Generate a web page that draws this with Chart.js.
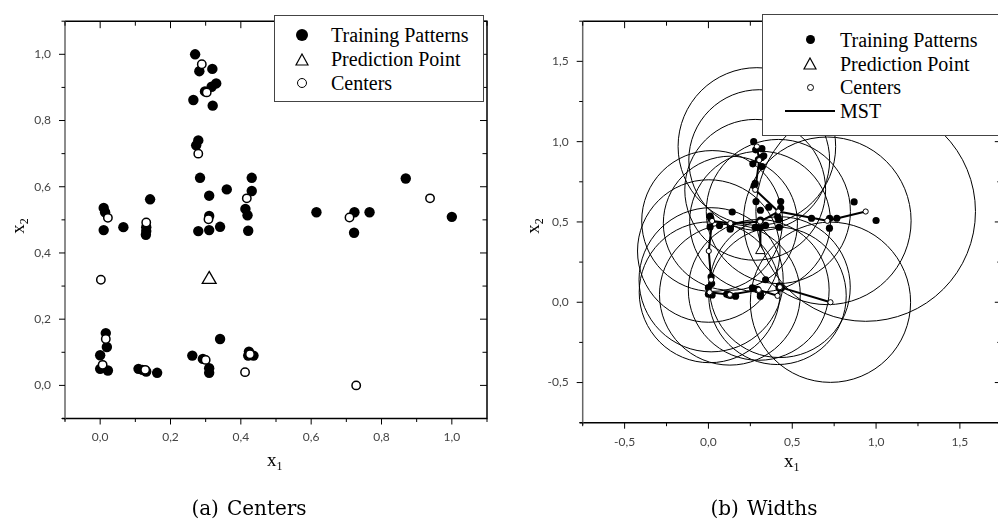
<!DOCTYPE html>
<html>
<head>
<meta charset="utf-8">
<script src="https://cdn.jsdelivr.net/npm/chart.js@4/dist/chart.umd.min.js"></script>
<style>
  html, body { margin: 0; padding: 0; width: 998px; height: 520px; overflow: hidden; background: #fff; }
  #wrap { position: relative; width: 998px; height: 520px; overflow: hidden; }
  canvas { position: absolute; top: 0; }
  #centersChart { left: 0; }
  #widthsChart { left: 500px; }
  .abs { position: absolute; white-space: nowrap; }
  .legendBox { position: absolute; background: #fff; border: 1.5px solid #444; box-sizing: border-box; }
  .legendText { position: absolute; font-family: "Liberation Serif", "Times New Roman", serif; font-size: 20px; line-height: 24px; color: #000; white-space: nowrap; }
  .dot { position: absolute; border-radius: 50%; background: #000; }
  .ring { position: absolute; border-radius: 50%; background: #fff; border: 1.3px solid #000; box-sizing: border-box; }
  .axisTitle { position: absolute; font-family: "Liberation Serif", "Times New Roman", serif; font-size: 19px; line-height: 20px; color: #000; white-space: nowrap; }
  .axisTitle sub { font-size: 12px; vertical-align: -4px; line-height: 0; }
  .caption { position: absolute; width: 220px; text-align: center; font-family: "DejaVu Serif", serif; font-size: 20px; line-height: 24px; color: #000; white-space: nowrap; }
  .caption span { margin-right: 8px; }
</style>
</head>
<body>
<div id="wrap">
  <canvas id="centersChart" width="500" height="470"></canvas>
  <canvas id="widthsChart" width="510" height="470"></canvas>

  <!-- (a) 图例 -->
  <div class="legendBox" style="left:274px;top:15px;width:210px;height:87px;"></div>
  <div class="dot" style="left:296px;top:29px;width:12px;height:12px;"></div>
  <svg class="abs" style="left:295px;top:53px;" width="14" height="13"><polygon points="7,1 13,12 1,12" fill="#fff" stroke="#000" stroke-width="1.2"/></svg>
  <div class="ring" style="left:297px;top:78px;width:10px;height:10px;"></div>
  <div class="legendText" style="left:331px;top:23px;">Training Patterns</div>
  <div class="legendText" style="left:331px;top:47px;">Prediction Point</div>
  <div class="legendText" style="left:331px;top:71px;">Centers</div>

  <!-- (b) 图例 -->
  <div class="legendBox" style="left:762px;top:14px;width:260px;height:122px;"></div>
  <div class="dot" style="left:805.5px;top:35px;width:9px;height:9px;"></div>
  <svg class="abs" style="left:803px;top:57px;" width="14" height="13"><polygon points="7,1 13,12 1,12" fill="#fff" stroke="#000" stroke-width="1.2"/></svg>
  <div class="ring" style="left:806.5px;top:83.5px;width:7px;height:7px;border-width:1px;"></div>
  <div class="abs" style="left:785px;top:109.5px;width:50px;height:2px;background:#000;"></div>
  <div class="legendText" style="left:840px;top:27.5px;">Training Patterns</div>
  <div class="legendText" style="left:840px;top:51.5px;">Prediction Point</div>
  <div class="legendText" style="left:840px;top:75px;">Centers</div>
  <div class="legendText" style="left:840px;top:98.5px;">MST</div>

  <!-- 坐标轴标题 -->
  <div class="axisTitle" style="left:267px;top:450px;">x<sub>1</sub></div>
  <div class="axisTitle" style="left:784px;top:451px;">x<sub>1</sub></div>
  <div class="axisTitle" style="left:18px;top:226px;transform:translate(-50%,-50%) rotate(-90deg);">x<sub>2</sub></div>
  <div class="axisTitle" style="left:533px;top:226px;transform:translate(-50%,-50%) rotate(-90deg);">x<sub>2</sub></div>

  <!-- 子图标题 -->
  <div class="caption" style="left:139px;top:496px;"><span>(a)</span>Centers</div>
  <div class="caption" style="left:654px;top:496px;"><span>(b)</span>Widths</div>
</div>

<script>
// 训练样本
const trainX1 = [0.270, 0.282, 0.319, 0.317, 0.330, 0.298, 0.265, 0.320, 0.279, 0.273,
                 0.284, 0.310, 0.360, 0.431, 0.431, 0.413, 0.419, 0.421, 0.279, 0.310,
                 0.341, 0.310, 0.010, 0.014, 0.010, 0.066, 0.142, 0.131, 0.131, 0.130,
                 0.615, 0.723, 0.722, 0.766, 0.869, 1.000, 0.016, 0.019, 0.000, 0.000,
                 0.022, 0.109, 0.120, 0.131, 0.162, 0.262, 0.292, 0.310, 0.310, 0.341,
                 0.423, 0.421, 0.436];
const trainX2 = [1.000, 0.949, 0.956, 0.902, 0.912, 0.888, 0.862, 0.845, 0.740, 0.725,
                 0.627, 0.573, 0.592, 0.627, 0.587, 0.533, 0.514, 0.467, 0.466, 0.469,
                 0.479, 0.512, 0.536, 0.523, 0.469, 0.478, 0.562, 0.478, 0.466, 0.455,
                 0.523, 0.523, 0.461, 0.523, 0.625, 0.509, 0.158, 0.116, 0.091, 0.050,
                 0.045, 0.050, 0.047, 0.042, 0.038, 0.090, 0.080, 0.052, 0.038, 0.140,
                 0.102, 0.090, 0.090];

// 中心 与 宽度
const centerX1 = [0.289, 0.303, 0.279, 0.417, 0.308, 0.022, 0.131, 0.709, 0.938,
                  0.002, 0.016, 0.007, 0.128, 0.300, 0.426, 0.412, 0.728];
const centerX2 = [0.970, 0.885, 0.700, 0.565, 0.502, 0.506, 0.492, 0.507, 0.565,
                  0.319, 0.140, 0.062, 0.047, 0.077, 0.094, 0.040, 0.000];
const centerWidth = [0.47, 0.42, 0.42, 0.43, 0.42, 0.42, 0.40, 0.50, 0.655,
                     0.425, 0.43, 0.42, 0.42, 0.42, 0.42, 0.41, 0.478];

// 预测点
const predX1 = [0.31];
const predX2 = [0.32];

// 最小生成树 (中心序号对), -1 = 预测点
const mstFrom = [14, 10, 0, 5, 13, 12, 3, 12, 4, 9, 1, 9, 3, 7, 7, 16, 4];
const mstTo   = [15, 11, 1, 6, 15, 11, 4, 13, 6, 10, 2, 5, 2, 8, 3, 14, -1];

// 刻度
const ticksA = [0, 0.2, 0.4, 0.6, 0.8, 1.0];
const minorA = [-0.1, 0, 0.1, 0.2, 0.3, 0.4, 0.5, 0.6, 0.7, 0.8, 0.9, 1.0, 1.1];
const ticksB = [-0.5, 0, 0.5, 1.0, 1.5];
const minorB = [-0.75, -0.5, -0.25, 0, 0.25, 0.5, 0.75, 1.0, 1.25, 1.5, 1.75];

/**
 * 点列表
 */
function toPoints(xs, ys) {
  return xs.map((v, i) => ({x: v, y: ys[i]}));
}

/**
 * 刻度文字 (逗号小数)
 */
function fmtTick(v) {
  return Number(v).toFixed(1).replace('.', ',');
}

function isMajor(v, majors) {
  return majors.some(m => Math.abs(m - v) < 1e-9);
}

/**
 * 外框 + 刻度线
 */
const framePlugin = {
  id: 'frame',
  afterDraw(chart, args, opts) {
    const ctx = chart.ctx;
    const a = chart.chartArea;
    const xs = chart.scales.x, ys = chart.scales.y;
    ctx.save();
    ctx.lineWidth = 1.5;
    ctx.strokeStyle = '#000';
    ctx.beginPath();
    ctx.moveTo(a.left - 3, a.bottom);
    ctx.lineTo(a.right, a.bottom);
    ctx.lineTo(a.right, a.top);
    ctx.lineTo(a.left, a.top);
    ctx.stroke();
    ctx.strokeStyle = '#666';
    ctx.beginPath();
    ctx.moveTo(a.left, a.top);
    ctx.lineTo(a.left, a.bottom + 2);
    ctx.stroke();

    ctx.lineWidth = 1;
    ctx.strokeStyle = '#000';
    ctx.beginPath();
    opts.xMinor.forEach(v => {
      const p = xs.getPixelForValue(v);
      const big = isMajor(v, opts.xMajor);
      ctx.moveTo(p, a.bottom); ctx.lineTo(p, a.bottom + (big ? 6 : 3.5));
      ctx.moveTo(p, a.top); ctx.lineTo(p, a.top + (big ? 7 : 4.5));
    });
    opts.yMinor.forEach(v => {
      const p = ys.getPixelForValue(v);
      const big = isMajor(v, opts.yMajor);
      ctx.moveTo(a.left, p); ctx.lineTo(a.left - (big ? 6 : 3.5), p);
      ctx.moveTo(a.right, p); ctx.lineTo(a.right - (big ? 7 : 4.5), p);
    });
    ctx.stroke();
    ctx.restore();
  }
};

/**
 * 坐标轴配置
 */
function axisConfig(min, max, majors, fitSize, horizontal, pad) {
  return {
    type: 'linear',
    min: min,
    max: max,
    grid: {display: false, drawTicks: false},
    border: {display: false},
    afterBuildTicks: (s) => { s.ticks = majors.map(v => ({value: v})); },
    afterFit: (s) => { if (horizontal) { s.height = fitSize; } else { s.width = fitSize; } },
    ticks: {
      padding: pad,
      autoSkip: false,
      maxRotation: 0,
      color: '#444',
      font: {family: 'Lato', size: 12},
      callback: (v) => fmtTick(v)
    }
  };
}

/**
 * (a) Centers
 */
function drawCentersChart() {
  const ctx = document.getElementById('centersChart').getContext('2d');
  new Chart(ctx, {
    type: 'scatter',
    data: {
      datasets: [
        {label: 'Prediction Point', data: toPoints(predX1, predX2), order: 0,
         pointStyle: 'triangle', pointRadius: 8, backgroundColor: '#fff', borderColor: '#000', borderWidth: 1.3},
        {label: 'Centers', data: toPoints(centerX1, centerX2), order: 1,
         pointRadius: 4.2, backgroundColor: '#fff', borderColor: '#000', borderWidth: 1.5},
        {label: 'Training Patterns', data: toPoints(trainX1, trainX2), order: 2,
         pointRadius: 5.2, backgroundColor: '#000', borderColor: '#000', borderWidth: 0}
      ]
    },
    options: {
      responsive: false,
      animation: false,
      events: [],
      layout: {padding: {top: 11, right: 13, left: 0, bottom: 0}},
      scales: {
        x: axisConfig(-0.1, 1.1, ticksA, 51.5, true, 11.5),
        y: axisConfig(-0.1, 1.1, ticksA, 65, false, 14)
      },
      plugins: {
        legend: {display: false},
        tooltip: {enabled: false},
        frame: {xMinor: minorA, xMajor: ticksA, yMinor: minorA, yMajor: ticksA}
      }
    },
    plugins: [framePlugin]
  });
}

/**
 * (b) Widths
 */
function drawWidthsChart() {
  const ctx = document.getElementById('widthsChart').getContext('2d');
  const datasets = [
    {label: 'Prediction Point', data: toPoints(predX1, predX2), order: 0,
     pointStyle: 'triangle', pointRadius: 5.5, backgroundColor: '#fff', borderColor: '#000', borderWidth: 1},
    {label: 'Centers', data: toPoints(centerX1, centerX2), order: 1,
     pointRadius: 2.6, backgroundColor: '#fff', borderColor: '#000', borderWidth: 1},
    {label: 'Training Patterns', data: toPoints(trainX1, trainX2), order: 2,
     pointRadius: 3.6, backgroundColor: '#000', borderColor: '#000', borderWidth: 0}
  ];
  // MST 线段
  mstFrom.forEach((f, i) => {
    const t = mstTo[i];
    const p2 = t < 0 ? {x: predX1[0], y: predX2[0]} : {x: centerX1[t], y: centerX2[t]};
    datasets.push({
      label: i === 0 ? 'MST' : '', data: [{x: centerX1[f], y: centerX2[f]}, p2], order: 3,
      showLine: true, pointRadius: 0, borderColor: '#000', borderWidth: 2
    });
  });
  // 宽度圆
  datasets.push({
    label: 'Widths', data: toPoints(centerX1, centerX2), order: 4,
    pointStyle: 'circle', backgroundColor: 'rgba(0,0,0,0)', borderColor: '#000', borderWidth: 1,
    pointRadius: (c) => {
      const s = c.chart.scales.x;
      return s.getPixelForValue(centerWidth[c.dataIndex]) - s.getPixelForValue(0);
    }
  });

  new Chart(ctx, {
    type: 'scatter',
    data: {datasets: datasets},
    options: {
      responsive: false,
      animation: false,
      events: [],
      layout: {padding: {top: 11, right: 8.2, left: 0, bottom: 0}},
      scales: {
        x: axisConfig(-0.75, 1.75, ticksB, 47.3, true, 12),
        y: axisConfig(-0.75, 1.75, ticksB, 82.7, false, 14)
      },
      plugins: {
        legend: {display: false},
        tooltip: {enabled: false},
        frame: {xMinor: minorB, xMajor: ticksB, yMinor: minorB, yMajor: ticksB}
      }
    },
    plugins: [framePlugin]
  });
}

drawCentersChart();
drawWidthsChart();
</script>
</body>
</html>
